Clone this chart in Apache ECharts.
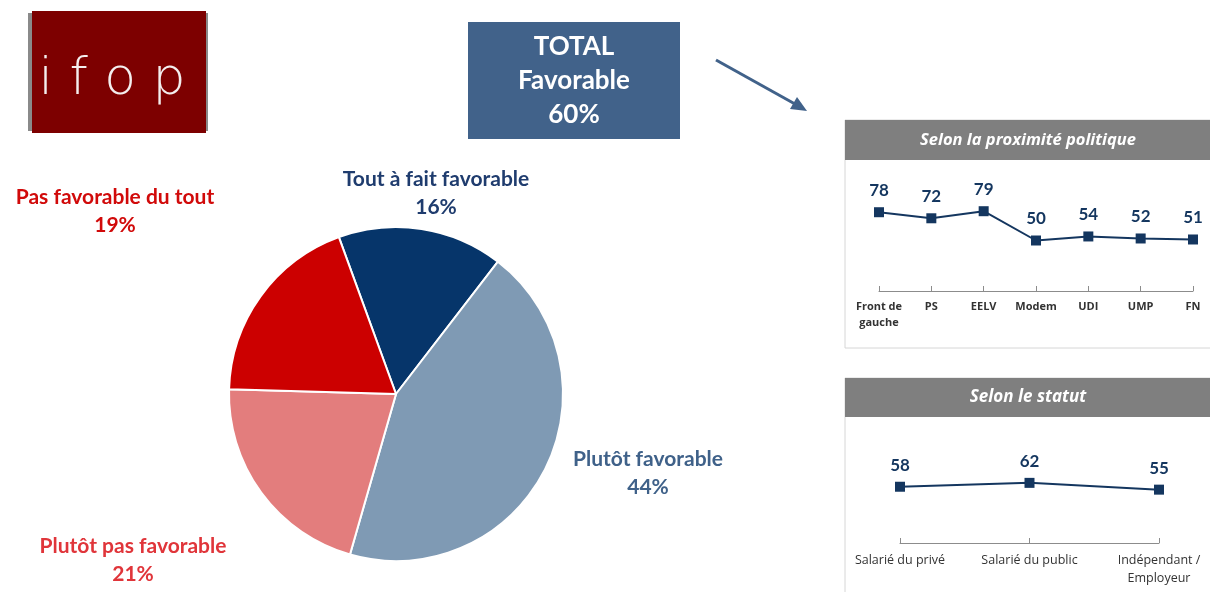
<!DOCTYPE html>
<html>
<head>
<meta charset="utf-8">
<script src="https://cdn.jsdelivr.net/npm/echarts@6/dist/echarts.min.js"></script>
<style>
  html, body { margin: 0; padding: 0; background: #fff; }
  #main { width: 1210px; height: 592px; }
</style>
</head>
<body>
<div id="main"></div>
<script>
// données du sondage
var pieNames = ['Tout à fait favorable', 'Plutôt favorable', 'Plutôt pas favorable', 'Pas favorable du tout'];
var pieValues = [16, 44, 21, 19];
var totalFavorable = 60;

var partis = ['Front de\ngauche', 'PS', 'EELV', 'Modem', 'UDI', 'UMP', 'FN'];
var partisValues = [78, 72, 79, 50, 54, 52, 51];

var statuts = ['Salarié du privé', 'Salarié du public', 'Indépendant /\nEmployeur'];
var statutsValues = [58, 62, 55];

// styles
var pieColors = ['#06356a', '#7f9ab4', '#e37d7d', '#cc0000'];
var labelColors = ['#1f3c6e', '#3f6189', '#e0353a', '#d10a0a'];
var labelPos = [[436, 193], [648, 473], [133, 560], [115, 211]];
var navy = '#14365f';
var font = 'Lato, "Open Sans", sans-serif';

var myChart = echarts.init(document.getElementById('main'));

function lineSeries(data, xIdx) {
    return {
        type: 'line',
        xAxisIndex: xIdx,
        yAxisIndex: xIdx,
        data: data,
        symbol: 'rect',
        symbolSize: 10,
        lineStyle: { color: navy, width: 2 },
        itemStyle: { color: navy },
        label: {
            show: true,
            position: 'top',
            distance: 8,
            color: navy,
            fontWeight: 'bold',
            fontSize: 17,
            fontFamily: font
        },
        animation: false
    };
}

function catAxis(grid, data, lh) {
    return {
        type: 'category',
        gridIndex: grid,
        data: data,
        boundaryGap: false,
        axisLine: { lineStyle: { color: '#8c8c8c', width: 1 } },
        axisTick: { inside: true, length: 5, lineStyle: { color: '#8c8c8c' } },
        axisLabel: {
            color: '#333',
            fontSize: grid === 0 ? 11 : 12.5,
            fontWeight: grid === 0 ? 'bold' : 'normal',
            fontFamily: '"Open Sans", sans-serif',
            margin: 8,
            lineHeight: lh,
            interval: 0
        }
    };
}

function valAxis(grid) {
    return {
        type: 'value',
        gridIndex: grid,
        min: 0,
        max: 100,
        show: false,
        splitLine: { show: false }
    };
}

var option = {
    backgroundColor: '#fff',
    animation: false,
    grid: [
        { left: 879, right: 17, top: 190, height: 101 },
        { left: 900, right: 51, top: 446, height: 97 }
    ],
    xAxis: [catAxis(0, partis, 16), catAxis(1, statuts, 18)],
    yAxis: [valAxis(0), valAxis(1)],
    graphic: [
        // panneaux de droite
        { type: 'rect', shape: { x: 845, y: 120, width: 380, height: 228 },
          style: { fill: 'none', stroke: '#d6d6d6', lineWidth: 1 }, z: 1 },
        { type: 'rect', shape: { x: 845, y: 120, width: 380, height: 40 },
          style: { fill: '#7f7f7f' }, z: 2 },
        { type: 'text', x: 1028, y: 140, z: 3,
          style: { text: 'Selon la proximité politique', fill: '#fff', font: 'italic bold 16.5px "Open Sans", sans-serif',
                   textAlign: 'center', textVerticalAlign: 'middle' } },
        { type: 'rect', shape: { x: 845, y: 378, width: 380, height: 240 },
          style: { fill: 'none', stroke: '#d6d6d6', lineWidth: 1 }, z: 1 },
        { type: 'rect', shape: { x: 845, y: 378, width: 380, height: 39 },
          style: { fill: '#7f7f7f' }, z: 2 },
        { type: 'text', x: 1028, y: 397, z: 3,
          style: { text: 'Selon le statut', fill: '#fff', font: 'italic bold 17px "Open Sans", sans-serif',
                   textAlign: 'center', textVerticalAlign: 'middle' } },
        // logo
        { type: 'rect', shape: { x: 28, y: 13, width: 180, height: 118 }, style: { fill: '#8a8a8a' } },
        { type: 'rect', shape: { x: 32, y: 11, width: 174, height: 122 }, style: { fill: '#7d0000' } },
        { type: 'text', x: 112, y: 80, z: 3,
          style: { text: 'i f o p', fill: '#f4eeee', font: '200 52px "DejaVu Sans", sans-serif',
                   textAlign: 'center', textVerticalAlign: 'middle' } },
        // total
        { type: 'rect', shape: { x: 468, y: 22, width: 212, height: 117 }, style: { fill: '#41628a' } },
        { type: 'text', x: 574, y: 81, z: 3,
          style: { text: 'TOTAL\nFavorable\n' + totalFavorable + '%', fill: '#fff',
                   font: 'bold 26px ' + font, lineHeight: 34,
                   textAlign: 'center', textVerticalAlign: 'middle' } },
        // flèche
        { type: 'line', shape: { x1: 716, y1: 60, x2: 795, y2: 104 },
          style: { stroke: '#41628a', lineWidth: 3 } },
        { type: 'polygon', shape: { points: [[807, 111], [790, 109], [797, 97]] },
          style: { fill: '#41628a' } }
    ],
    series: [
        {
            type: 'pie',
            center: [396, 394],
            radius: 167,
            startAngle: 110,
            clockwise: true,
            animation: false,
            data: pieNames.map(function (n, i) {
                return {
                    name: n,
                    value: pieValues[i],
                    itemStyle: { color: pieColors[i] },
                    label: { color: labelColors[i] }
                };
            }),
            itemStyle: { borderColor: '#fff', borderWidth: 2 },
            label: {
                show: true,
                formatter: '{b}\n{c}%',
                fontFamily: font,
                fontWeight: 'bold',
                fontSize: 21,
                lineHeight: 28,
                align: 'center'
            },
            labelLine: { show: false },
            labelLayout: function (params) {
                var p = labelPos[params.dataIndex];
                return { x: p[0], y: p[1], align: 'center', verticalAlign: 'middle', hideOverlap: false };
            }
        },
        lineSeries(partisValues, 0),
        lineSeries(statutsValues, 1)
    ]
};

myChart.setOption(option);

window.onresize = function () {
    myChart.resize();
};
</script>
</body>
</html>
